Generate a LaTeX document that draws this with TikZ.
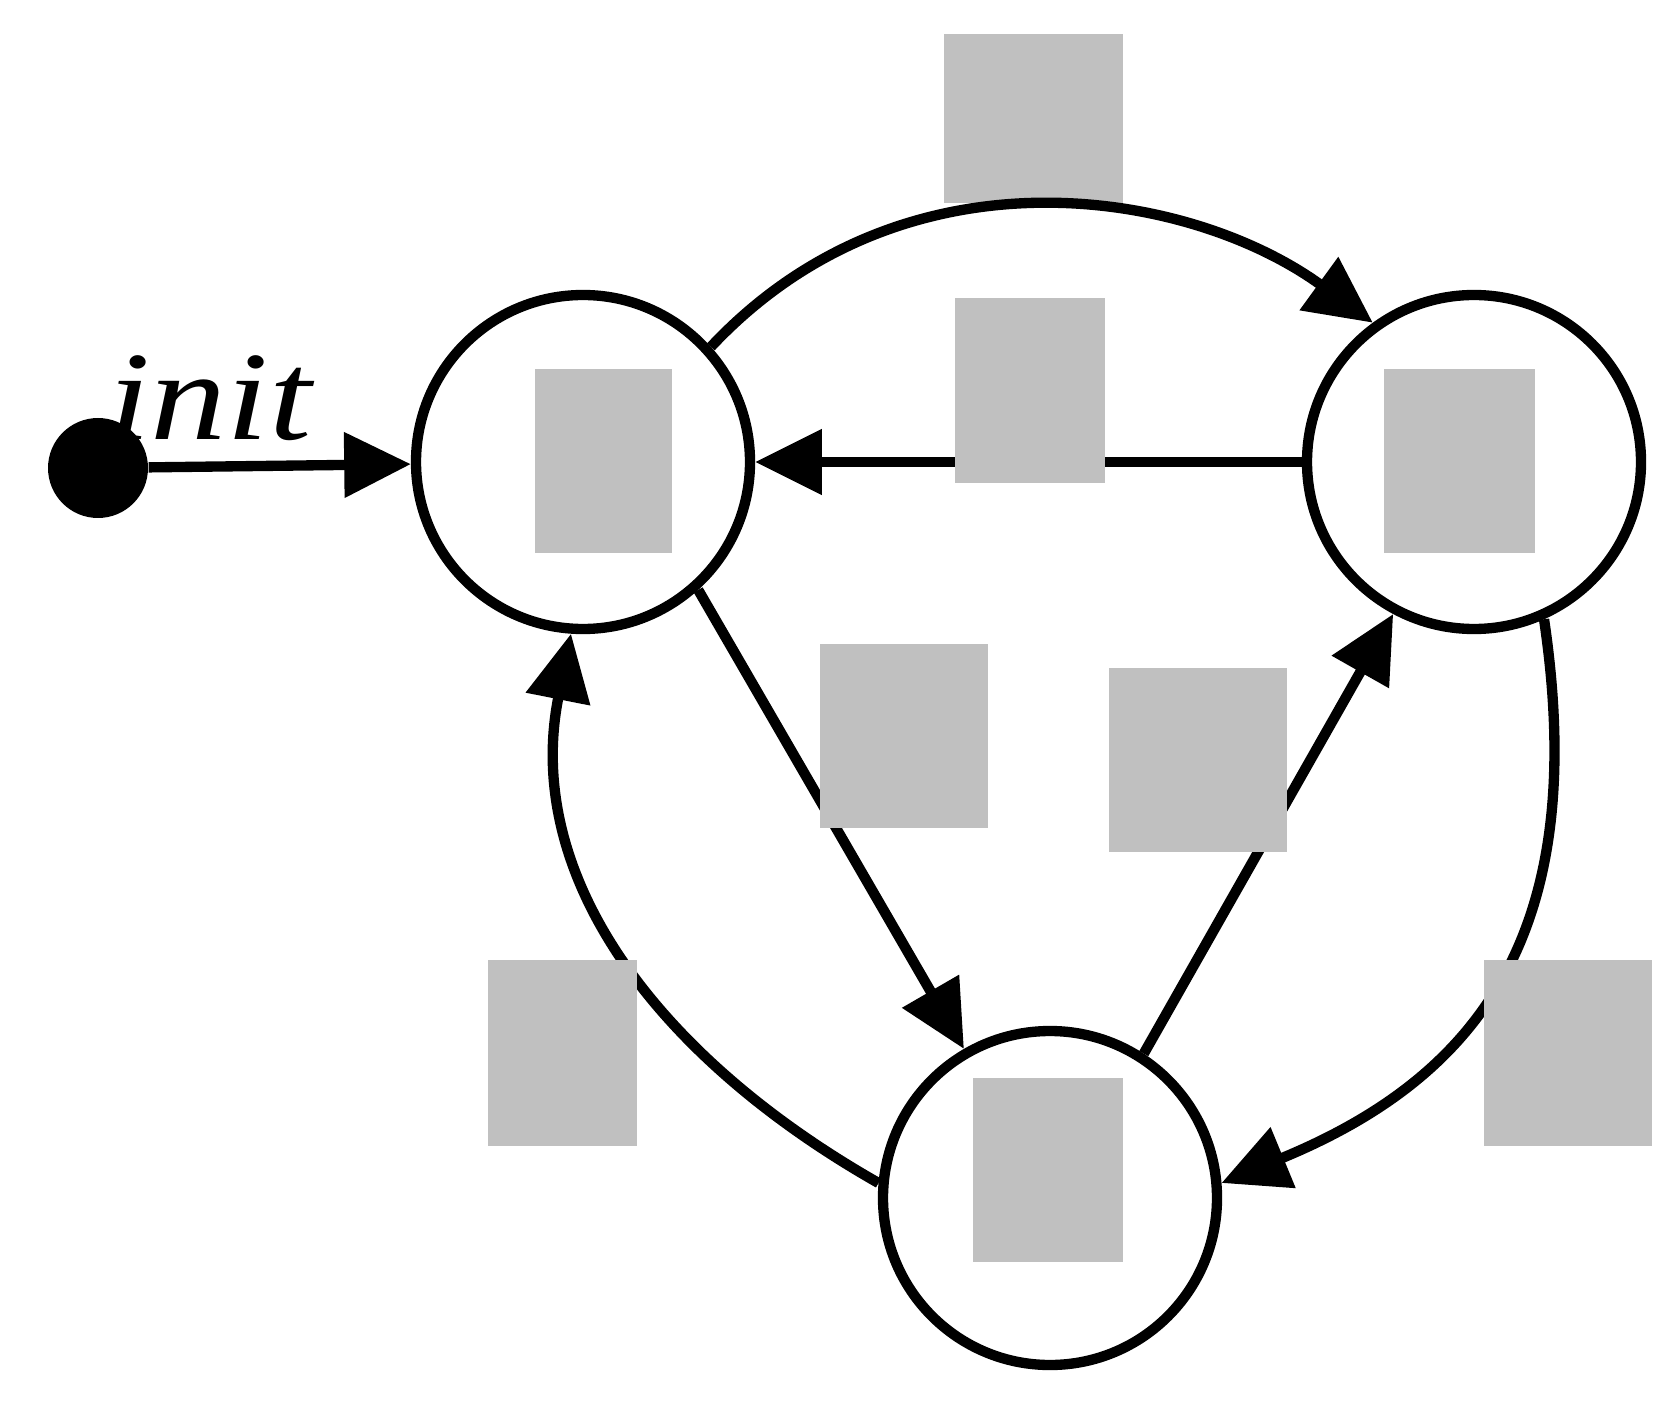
\documentclass[tikz,border=0pt]{standalone}
\usepackage{fontspec}
\setmainfont{Liberation Serif}
\newfontfamily\initfont{Liberation Serif Italic}
\usetikzlibrary{arrows.meta}
\definecolor{boxgray}{RGB}{192,192,192}
\begin{document}
\begin{tikzpicture}[x=0.3pt,y=-0.3pt,
  state/.style={circle,draw,line width=3.1pt,minimum size=100.2pt,inner sep=0pt},
  edge/.style={line width=3.1pt,-{Triangle[length=20pt,width=19pt]}},
  graybox/.style={fill=boxgray}]
\useasboundingbox (0,0) rectangle (1680,1411);
\begin{scope}
\clip (0,0) rectangle (1680,1372);
\fill[graybox] (944,34) rectangle (1123,203);
\node[state] (A) at (583,462) {};
\node[state] (B) at (1474,462) {};
\node[state] (C) at (1050,1198) {};
\node[circle,fill,minimum size=30pt,inner sep=0pt] (dot) at (98,468) {};
\node[anchor=base west,inner sep=0pt,font=\initfont\fontsize{38pt}{40pt}\selectfont] (init) at (108,440) {\scalebox{1.2}[1]{init}};
\draw[edge] (dot) -- (A);
\draw[edge] (A.42) .. controls (905,140) and (1190,190) .. (B.126);
\draw[edge] (B) -- (A);
\draw[edge] (A.-48) -- (C.120);
\draw[edge] (C.57) -- (B.-118);
\draw[edge] (C.175) .. controls (662,1060) and (522,880) .. (A.-94);
\draw[edge] (B.-66) .. controls (1590,930) and (1481,1076) .. (C.5);
\fill[graybox] (535,369) rectangle (672,553);
\fill[graybox] (1384,369) rectangle (1535,553);
\fill[graybox] (955,298) rectangle (1105,483);
\fill[graybox] (820,644) rectangle (988,828);
\fill[graybox] (1109,668) rectangle (1287,852);
\fill[graybox] (488,960) rectangle (637,1146);
\fill[graybox] (1484,960) rectangle (1652,1146);
\fill[graybox] (973,1078) rectangle (1123,1262);
\end{scope}
\end{tikzpicture}
\end{document}
